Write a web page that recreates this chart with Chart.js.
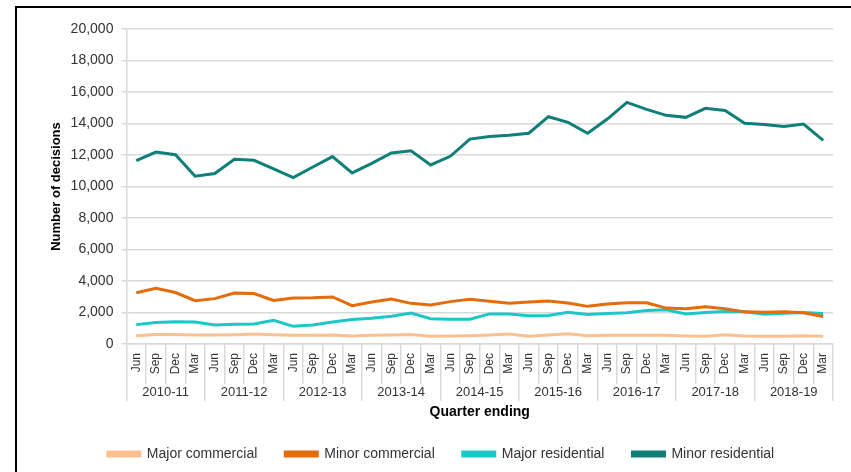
<!DOCTYPE html>
<html>
<head>
<meta charset="utf-8">
<script src="https://cdn.jsdelivr.net/npm/chart.js@4.4.1/dist/chart.umd.min.js"></script>
<style>
  html, body { margin: 0; padding: 0; background: #fff; overflow: hidden; }
  #wrap { position: relative; width: 851px; height: 472px; }
  #frame { position: absolute; left: 15px; top: 6px; width: 900px; height: 500px;
           border-left: 2px solid #000; border-top: 2px solid #000; pointer-events: none; }
  canvas { position: absolute; left: 0; top: 0; }
</style>
</head>
<body>
<div id="wrap">
  <div id="frame"></div>
  <canvas id="chart" width="851" height="472"></canvas>
</div>
<script>
const years = ['2010-11', '2011-12', '2012-13', '2013-14', '2014-15', '2015-16', '2016-17', '2017-18', '2018-19'];
const quarterNames = ['Jun', 'Sep', 'Dec', 'Mar'];
const quarters = years.flatMap(() => quarterNames);

const majorCommercial = [520, 610, 610, 570, 570, 590, 630, 590, 550, 550, 570, 510, 550, 570, 610, 490, 510, 530,
   570, 630, 490, 570, 650, 530, 550, 550, 550, 550, 510, 490, 590, 510, 490, 490, 530, 490];
const minorCommercial = [3250, 3530, 3270, 2750, 2880, 3230, 3200, 2770, 2920, 2930, 2990, 2430, 2670, 2860, 2580, 2470, 2690, 2840,
   2710, 2580, 2670, 2730, 2600, 2390, 2540, 2620, 2620, 2280, 2240, 2370, 2240, 2040, 2020, 2040, 1980, 1740];
const majorResidential = [1230, 1360, 1420, 1400, 1200, 1250, 1270, 1510, 1120, 1200, 1400, 1550, 1640, 1760, 1960, 1610, 1570, 1570,
   1910, 1910, 1790, 1810, 2020, 1870, 1940, 1980, 2130, 2170, 1910, 2000, 2060, 2040, 1890, 1960, 2000, 1940];
const minorResidential = [11640, 12190, 12020, 10650, 10820, 11730, 11660, 11120, 10570, 11240, 11900, 10860, 11470, 12130, 12270, 11370, 11920, 13010,
   13170, 13250, 13380, 14430, 14070, 13380, 14280, 15340, 14900, 14520, 14390, 14960, 14830, 14020, 13940, 13810, 13960, 12930];

const FONT = '"Liberation Sans", Arial, sans-serif';
const GRID = '#d9d9d9';
const TEXT = '#333333';

function series(label, data, color) {
   return {
      label: label,
      data: data,
      borderColor: color,
      backgroundColor: color,
      borderWidth: 3,
      pointRadius: 0,
      tension: 0,
      fill: false
   };
}

const ctx = document.getElementById('chart').getContext('2d');

new Chart(ctx, {
   type: 'line',
   data: {
      labels: quarters,
      datasets: [
         series('Major commercial', majorCommercial, '#fac090'),
         series('Minor commercial', minorCommercial, '#e46c0a'),
         series('Major residential', majorResidential, '#1cc7c7'),
         series('Minor residential', minorResidential, '#0f7f7a')
      ]
   },
   options: {
      responsive: false,
      animation: false,
      layout: { padding: { left: 49, right: 18, top: 29, bottom: 1 } },
      plugins: {
         tooltip: { enabled: false },
         legend: {
            position: 'bottom',
            labels: {
               boxWidth: 32,
               boxHeight: 4,
               padding: 28,
               color: TEXT,
               font: { family: FONT, size: 14 }
            }
         }
      },
      scales: {
         y: {
            min: 0,
            max: 20000,
            ticks: {
               stepSize: 2000,
               padding: 8,
               color: TEXT,
               font: { family: FONT, size: 14 },
               callback: v => v.toLocaleString('en-US')
            },
            grid: { color: GRID, lineWidth: 1.5, tickLength: 5 },
            border: { color: GRID, width: 1.5 },
            title: {
               display: true,
               text: 'Number of decisions',
               color: '#000',
               font: { family: FONT, size: 13, weight: 'bold' },
               padding: { top: 0, bottom: -2 }
            }
         },
         x: {
            type: 'category',
            offset: true,
            weight: 0,
            ticks: {
               autoSkip: false,
               minRotation: 90,
               maxRotation: 90,
               padding: -31,
               color: TEXT,
               font: { family: FONT, size: 12 }
            },
            grid: { drawOnChartArea: false, offset: true, color: GRID, lineWidth: 1.5, tickLength: 40 },
            border: { color: GRID, width: 1.5 },
            afterFit: scale => { scale.height = 40; }
         },
         x2: {
            type: 'category',
            position: 'bottom',
            labels: years,
            offset: true,
            weight: 1,
            ticks: {
               autoSkip: false,
               maxRotation: 0,
               padding: -16,
               color: TEXT,
               font: { family: FONT, size: 13 }
            },
            grid: { drawOnChartArea: false, offset: true, color: GRID, lineWidth: 1.5, tickLength: 17 },
            border: { display: false },
            title: {
               display: true,
               text: 'Quarter ending',
               color: '#000',
               font: { family: FONT, size: 14, weight: 'bold' },
               padding: { top: 19.6, bottom: -2 }
            }
         }
      }
   }
});
</script>
</body>
</html>
